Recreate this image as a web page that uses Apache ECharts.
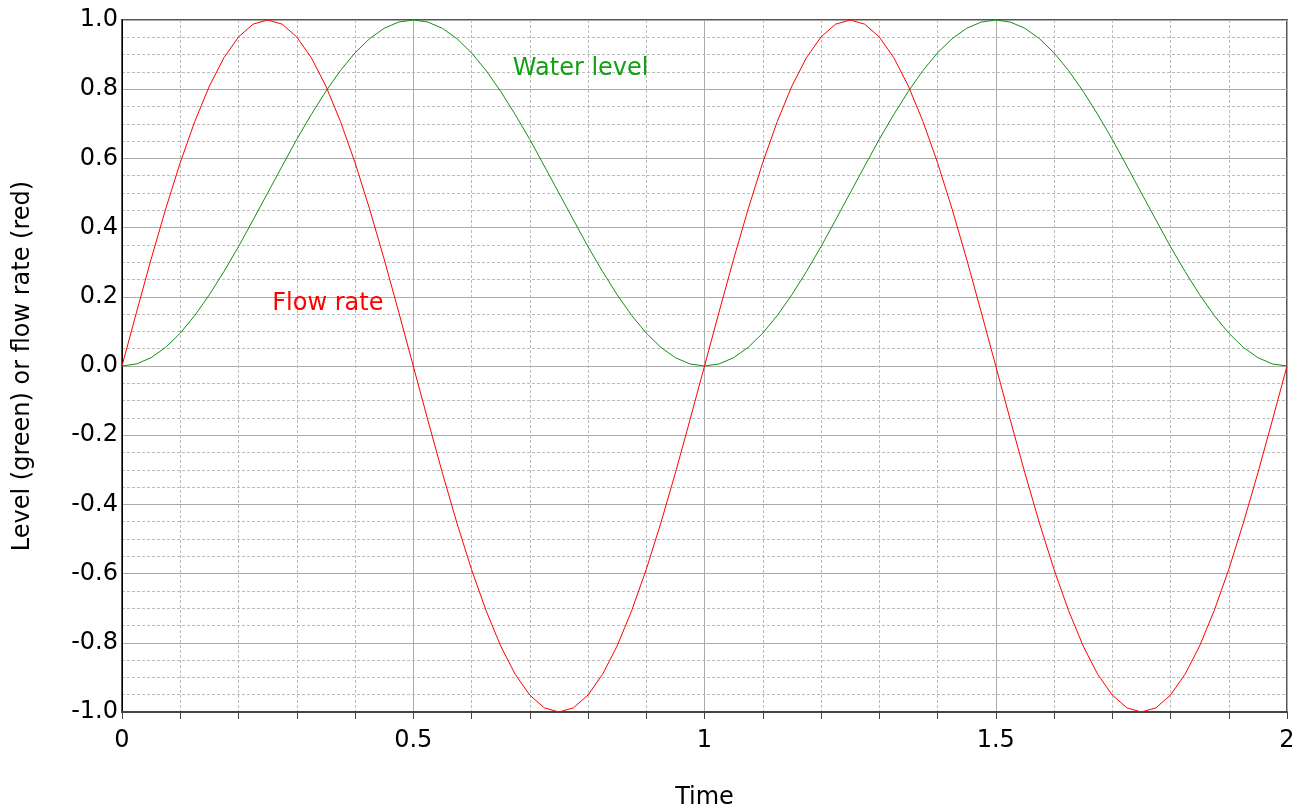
<!DOCTYPE html>
<html>
<head>
<meta charset="utf-8">
<script src="https://cdn.jsdelivr.net/npm/echarts@6/dist/echarts.min.js"></script>
<style>
  html, body { margin: 0; padding: 0; background: #fff; }
  #chart { width: 1304px; height: 809px; }
</style>
</head>
<body>
<div id="chart"></div>
<script>
// time samples (step 0.025)
var time = [
  0, 0.025, 0.05, 0.075, 0.1, 0.125, 0.15, 0.175, 0.2, 0.225,
  0.25, 0.275, 0.3, 0.325, 0.35, 0.375, 0.4, 0.425, 0.45, 0.475,
  0.5, 0.525, 0.55, 0.575, 0.6, 0.625, 0.65, 0.675, 0.7, 0.725,
  0.75, 0.775, 0.8, 0.825, 0.85, 0.875, 0.9, 0.925, 0.95, 0.975,
  1, 1.025, 1.05, 1.075, 1.1, 1.125, 1.15, 1.175, 1.2, 1.225,
  1.25, 1.275, 1.3, 1.325, 1.35, 1.375, 1.4, 1.425, 1.45, 1.475,
  1.5, 1.525, 1.55, 1.575, 1.6, 1.625, 1.65, 1.675, 1.7, 1.725,
  1.75, 1.775, 1.8, 1.825, 1.85, 1.875, 1.9, 1.925, 1.95, 1.975,
  2
];
// flow rate (red)
var flowRate = [
  0, 0.156, 0.309, 0.454, 0.588, 0.707, 0.809, 0.891, 0.951, 0.988,
  1, 0.988, 0.951, 0.891, 0.809, 0.707, 0.588, 0.454, 0.309, 0.156,
  0, -0.156, -0.309, -0.454, -0.588, -0.707, -0.809, -0.891, -0.951, -0.988,
  -1, -0.988, -0.951, -0.891, -0.809, -0.707, -0.588, -0.454, -0.309, -0.156,
  0, 0.156, 0.309, 0.454, 0.588, 0.707, 0.809, 0.891, 0.951, 0.988,
  1, 0.988, 0.951, 0.891, 0.809, 0.707, 0.588, 0.454, 0.309, 0.156,
  0, -0.156, -0.309, -0.454, -0.588, -0.707, -0.809, -0.891, -0.951, -0.988,
  -1, -0.988, -0.951, -0.891, -0.809, -0.707, -0.588, -0.454, -0.309, -0.156,
  0
];
// water level (green)
var waterLevel = [
  0, 0.006, 0.024, 0.054, 0.095, 0.146, 0.206, 0.273, 0.345, 0.422,
  0.5, 0.578, 0.655, 0.727, 0.794, 0.854, 0.905, 0.946, 0.976, 0.994,
  1, 0.994, 0.976, 0.946, 0.905, 0.854, 0.794, 0.727, 0.655, 0.578,
  0.5, 0.422, 0.345, 0.273, 0.206, 0.146, 0.095, 0.054, 0.024, 0.006,
  0, 0.006, 0.024, 0.054, 0.095, 0.146, 0.206, 0.273, 0.345, 0.422,
  0.5, 0.578, 0.655, 0.727, 0.794, 0.854, 0.905, 0.946, 0.976, 0.994,
  1, 0.994, 0.976, 0.946, 0.905, 0.854, 0.794, 0.727, 0.655, 0.578,
  0.5, 0.422, 0.345, 0.273, 0.206, 0.146, 0.095, 0.054, 0.024, 0.006,
  0
];

var flowData = time.map(function (t, i) { return [t, flowRate[i]]; });
var levelData = time.map(function (t, i) { return [t, waterLevel[i]]; });

var myChart = echarts.init(document.getElementById('chart'));
var font = 'DejaVu Sans';

myChart.setOption({
  animation: false,
  grid: {
    left: 122, right: 17, top: 20, bottom: 97,
    outerBoundsMode: 'none',
    containLabel: false,
    show: true,
    borderColor: '#555',
    borderWidth: 2
  },
  xAxis: {
    type: 'value',
    min: 0, max: 2, interval: 0.5,
    name: 'Time',
    nameLocation: 'middle',
    nameGap: 74,
    nameTextStyle: { color: '#000', fontSize: 24, fontFamily: font },
    axisLine: { show: true, onZero: false, lineStyle: { color: '#444', width: 2 } },
    axisTick: { show: true, length: 7, lineStyle: { color: '#444', width: 1 } },
    minorTick: { show: true, splitNumber: 5, length: 7, lineStyle: { color: '#444', width: 1 } },
    axisLabel: {
      color: '#000', fontSize: 24, fontFamily: font, margin: 17,
      formatter: function (v) { return String(v); }
    },
    splitLine: { show: true, lineStyle: { color: '#aaa', width: 1 } },
    minorSplitLine: { show: true, lineStyle: { color: '#bbb', width: 1, type: [3, 2] } }
  },
  yAxis: {
    type: 'value',
    min: -1, max: 1, interval: 0.2,
    name: 'Level (green) or flow rate (red)',
    nameLocation: 'middle',
    nameGap: 87,
    nameRotate: 90,
    nameTextStyle: { color: '#000', fontSize: 24, fontFamily: font },
    axisLine: { show: true, onZero: false, lineStyle: { color: '#000', width: 1 } },
    axisTick: { show: false },
    minorTick: { show: false, splitNumber: 4 },
    axisLabel: {
      color: '#000', fontSize: 24, fontFamily: font, margin: 4,
      formatter: function (v) { return v.toFixed(1); }
    },
    splitLine: { show: true, lineStyle: { color: '#aaa', width: 1 } },
    minorSplitLine: { show: true, lineStyle: { color: '#bbb', width: 1, type: [3, 2] } }
  },
  series: [
    {
      name: 'Water level',
      type: 'line',
      data: levelData,
      showSymbol: false,
      lineStyle: { color: '#138f13', width: 1 },
      markPoint: {
        symbol: 'circle', symbolSize: 0,
        data: [{ coord: [0.671, 0.858] }],
        label: {
          show: true, position: 'right', distance: 0,
          formatter: 'Water level',
          color: '#14a014', fontSize: 24, fontFamily: font
        }
      }
    },
    {
      name: 'Flow rate',
      type: 'line',
      data: flowData,
      showSymbol: false,
      lineStyle: { color: '#ff0000', width: 1 },
      markPoint: {
        symbol: 'circle', symbolSize: 0,
        data: [{ coord: [0.258, 0.18] }],
        label: {
          show: true, position: 'right', distance: 0,
          formatter: 'Flow rate',
          color: '#ff0000', fontSize: 24, fontFamily: font
        }
      }
    }
  ]
});
</script>
</body>
</html>
